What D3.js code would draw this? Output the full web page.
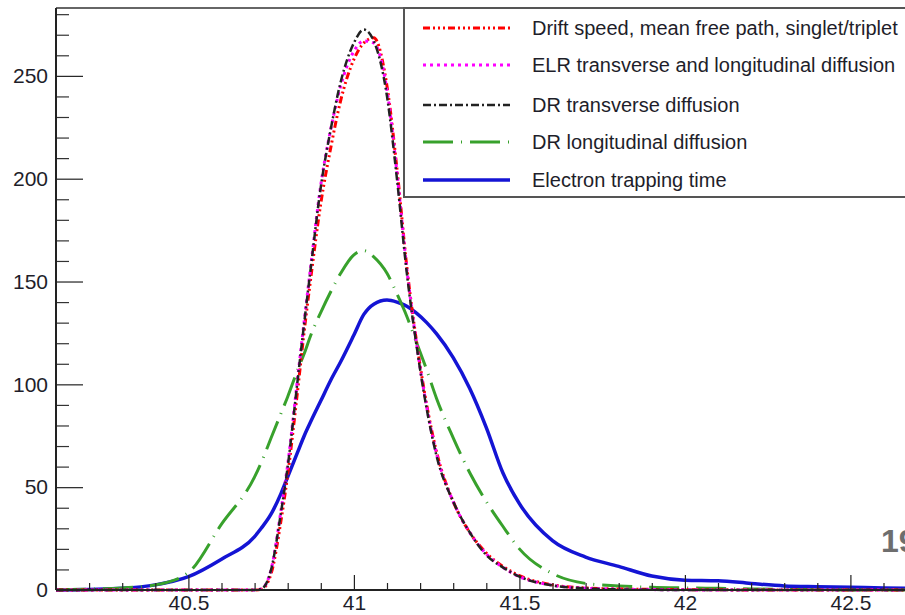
<!DOCTYPE html>
<html>
<head>
<meta charset="utf-8">
<script src="https://cdn.jsdelivr.net/npm/d3@7"></script>
<style>
  html, body { margin: 0; padding: 0; background: #fff; }
  svg { display: block; }
  text { font-family: "Liberation Sans", Arial, Helvetica, sans-serif; }
</style>
</head>
<body>
<svg id="chart" width="905" height="615"></svg>
<script>
// ---------------- data ----------------
const xGrid = [40.1, 40.2, 40.3, 40.4, 40.5, 40.6, 40.7, 40.72, 40.75, 40.78, 40.8, 40.83, 40.85, 40.87,
  40.9, 40.93, 40.96, 41.0, 41.03, 41.06, 41.1, 41.13, 41.16, 41.19, 41.22, 41.25, 41.3, 41.35, 41.4,
  41.45, 41.5, 41.6, 41.7, 41.8, 41.9, 42.0, 42.1, 42.2, 42.3, 42.4, 42.5, 42.6, 42.7, 42.8, 42.9];

const driftSpeed = [0, 0, 0, 0, 0, 0, 0, 0.3, 8, 34, 56, 97, 126, 152,
  188, 215, 238, 258, 266, 268.5, 245, 205, 157, 120, 90, 67, 43, 28, 18,
  11.5, 7, 2.5, 1, 0.5, 0.3, 0.2, 0.1, 0, 0, 0, 0, 0, 0, 0, 0];

const elrDiffusion = [0, 0, 0, 0, 0, 0, 0, 0.5, 10, 39, 61, 103, 131, 158,
  197, 224, 245, 262, 267, 266, 243, 203, 156, 119, 89, 66, 43, 28, 17.5,
  11, 6.5, 2.3, 0.9, 0.4, 0.2, 0.1, 0, 0, 0, 0, 0, 0, 0, 0, 0];

const drTransverse = [0, 0, 0, 0, 0, 0, 0, 0.5, 10, 38, 60, 102, 130, 157,
  196, 224, 247, 266, 272.5, 267, 240, 200, 154, 118, 88, 65, 43, 28, 17,
  11, 6.5, 2.2, 0.8, 0.3, 0.1, 0, 0, 0, 0, 0, 0, 0, 0, 0, 0];

const drLongitudinal = [0.1, 0.4, 1, 2.5, 8.5, 32, 55, 62, 74, 86, 94, 107, 115, 124,
  135, 145, 154, 163, 165, 162, 154, 144, 133, 120, 107, 93, 74, 57, 43,
  31, 20, 8, 3.2, 2, 1.3, 1, 0.8, 0.5, 0.3, 0.1, 0, 0, 0, 0, 0];

const trappingTime = [0, 0.3, 0.8, 2.5, 6.5, 15, 26, 30, 37, 47, 55, 67, 75, 82,
  92, 102, 111, 124, 134, 139, 141, 140, 138, 134.5, 130, 124.5, 113, 98, 79,
  57, 42, 24, 16, 11.5, 6.8, 4.8, 4.5, 3.2, 2, 1.6, 1.3, 1, 0.8, 0.6, 0.5];

const seriesNames = [
  "Drift speed, mean free path, singlet/triplet",
  "ELR transverse and longitudinal diffusion",
  "DR transverse diffusion",
  "DR longitudinal diffusion",
  "Electron trapping time"
];
const seriesValues = [driftSpeed, elrDiffusion, drTransverse, drLongitudinal, trappingTime];

const xMajorTicks = [40.5, 41, 41.5, 42, 42.5];
const xTickLabels = ["40.5", "41", "41.5", "42", "42.5"];
const yMajorTicks = [0, 50, 100, 150, 200, 250];
const yTickLabels = ["0", "50", "100", "150", "200", "250"];
const pageNumber = "19";

// ---------------- styles ----------------
const styles = [
  { color: "#ff0000", width: 3, dash: "7,3,2,3,2,3,2,3" },
  { color: "#ff00ff", width: 3, dash: "3,4" },
  { color: "#222222", width: 2.5, dash: "8,3,2,3" },
  { color: "#38a12c", width: 3, dash: "30,8,1,8" },
  { color: "#1414d4", width: 3.5, dash: null }
];

// ---------------- layout ----------------
const plotLeft = 56, plotBottom = 590, plotTop = 8;
const pxPerUnitX = 331;
const svg = d3.select("#chart");

const x = d3.scaleLinear().domain([40.1, 42.9]).range([plotLeft, plotLeft + 2.8 * pxPerUnitX]);
const y = d3.scaleLinear().domain([0, 283]).range([plotBottom, plotTop]);

// frame top line
svg.append("line").attr("x1", plotLeft).attr("x2", 905).attr("y1", plotTop).attr("y2", plotTop)
  .attr("stroke", "#666").attr("stroke-width", 2);

// curves
svg.append("clipPath").attr("id", "plotclip")
  .append("rect").attr("x", plotLeft).attr("y", plotTop).attr("width", 905 - plotLeft).attr("height", plotBottom - plotTop + 2);

const line = d3.line()
  .x((d, i) => x(xGrid[i]))
  .y(d => y(d))
  .curve(d3.curveMonotoneX);

const gCurves = svg.append("g").attr("clip-path", "url(#plotclip)");
const drawOrder = [4, 3, 0, 1, 2];
drawOrder.forEach(k => {
  gCurves.append("path")
    .attr("d", line(seriesValues[k]))
    .attr("fill", "none")
    .attr("stroke", styles[k].color)
    .attr("stroke-width", styles[k].width)
    .attr("stroke-dasharray", styles[k].dash)
    .attr("stroke-linejoin", "round");
});

// x axis
const xMinor = d3.range(40.2, 42.95, 0.1).map(v => +v.toFixed(2)).filter(v => !xMajorTicks.some(m => Math.abs(m - v) < 1e-6));
svg.append("g").attr("transform", `translate(0,${plotBottom})`)
  .call(d3.axisBottom(x).tickValues(xMinor).tickSize(-7).tickFormat(""))
  .call(g => g.select(".domain").remove())
  .call(g => g.selectAll("line").attr("stroke", "#222").attr("stroke-width", 1.2));
svg.append("g").attr("transform", `translate(0,${plotBottom})`)
  .call(d3.axisBottom(x).tickValues(xMajorTicks).tickSize(-15).tickPadding(5)
    .tickFormat((d, i) => xTickLabels[i]))
  .call(g => g.select(".domain").remove())
  .call(g => g.selectAll("line").attr("stroke", "#222").attr("stroke-width", 1.2))
  .call(g => g.selectAll("text").attr("font-size", 21).attr("fill", "#1e1e2a"));

// y axis
const yMinor = d3.range(10, 281, 10).filter(v => v % 50 !== 0);
svg.append("g").attr("transform", `translate(${plotLeft},0)`)
  .call(d3.axisLeft(y).tickValues(yMinor).tickSize(-13).tickFormat(""))
  .call(g => g.select(".domain").remove())
  .call(g => g.selectAll("line").attr("stroke", "#333").attr("stroke-width", 1.2));
svg.append("g").attr("transform", `translate(${plotLeft},0)`)
  .call(d3.axisLeft(y).tickValues(yMajorTicks).tickSize(-27).tickPadding(8)
    .tickFormat((d, i) => yTickLabels[i]))
  .call(g => g.select(".domain").remove())
  .call(g => g.selectAll("line").attr("stroke", "#222").attr("stroke-width", 1.2))
  .call(g => g.selectAll("text").attr("font-size", 21).attr("fill", "#1e1e2a"));

// axis lines
svg.append("line").attr("x1", plotLeft).attr("x2", plotLeft).attr("y1", plotTop).attr("y2", plotBottom)
  .attr("stroke", "#222").attr("stroke-width", 2);
svg.append("line").attr("x1", plotLeft).attr("x2", 905).attr("y1", plotBottom).attr("y2", plotBottom)
  .attr("stroke", "#222").attr("stroke-width", 2);

// legend
const lg = svg.append("g");
lg.append("rect").attr("x", 404).attr("y", plotTop).attr("width", 540).attr("height", 189)
  .attr("fill", "#fff").attr("stroke", "#555").attr("stroke-width", 2);
const rowY = [28, 65, 105, 142, 180];
seriesNames.forEach((name, k) => {
  lg.append("line").attr("x1", 423).attr("x2", 510).attr("y1", rowY[k]).attr("y2", rowY[k])
    .attr("stroke", styles[k].color).attr("stroke-width", styles[k].width)
    .attr("stroke-dasharray", styles[k].dash);
  lg.append("text").attr("x", 532).attr("y", rowY[k]).attr("dy", "0.35em")
    .attr("font-size", 20).attr("fill", "#1e1e2a").text(name);
});

// page number (cropped at right edge, as in the reference)
svg.append("text").attr("x", 881).attr("y", 552).attr("font-size", 32).attr("font-weight", "bold")
  .attr("fill", "#6e6e6e").text(pageNumber);
</script>
</body>
</html>
